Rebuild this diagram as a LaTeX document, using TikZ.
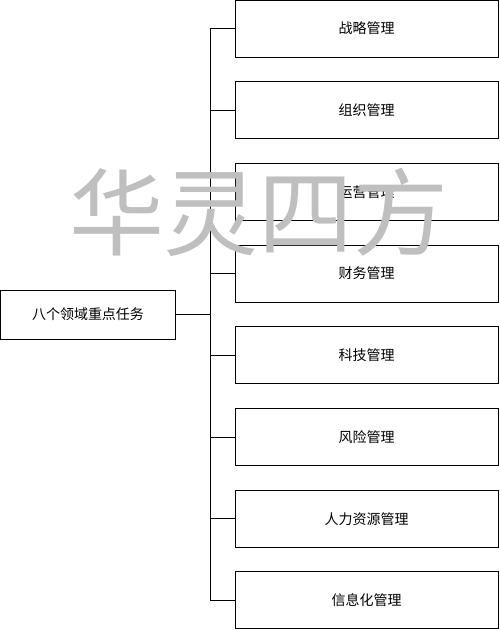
\documentclass[tikz,border=0pt]{standalone}
\usepackage{fontspec}
\setmainfont{Noto Sans CJK SC}
\tikzset{
  taskbox/.style={draw,line width=1pt,inner sep=0pt,minimum width=263pt,minimum height=57pt,font=\fontsize{14}{16}\selectfont},
  rootbox/.style={draw,line width=1pt,inner sep=0pt,minimum width=175pt,minimum height=49pt,font=\fontsize{14}{16}\selectfont},
  tree/.style={line width=1pt}
}
\begin{document}
\begin{tikzpicture}[x=1pt,y=-1pt]
  \useasboundingbox (0,0) rectangle (499,630);
  % root box and the trunk
  \node[rootbox] (root) at (88,314.5) {八个领域重点任务};
  \coordinate (trunk) at (210,314.5);
  \draw[tree] (root.east) -- (trunk);
  % eight tasks
  \foreach \name [count=\i] in {战略管理,组织管理,运营管理,财务管理,科技管理,风险管理,人力资源管理,信息化管理}{
    \node[taskbox] (task\i) at (366.5,{28.5+(\i-1)*81.7}) {\name};
    \draw[tree] (trunk) |- (task\i.west);
  }
  % watermark
  \node[text=gray!50,font=\fontsize{95}{95}\selectfont,inner sep=0pt] (mark) at (259,212) {华灵四方};
\end{tikzpicture}
\end{document}
